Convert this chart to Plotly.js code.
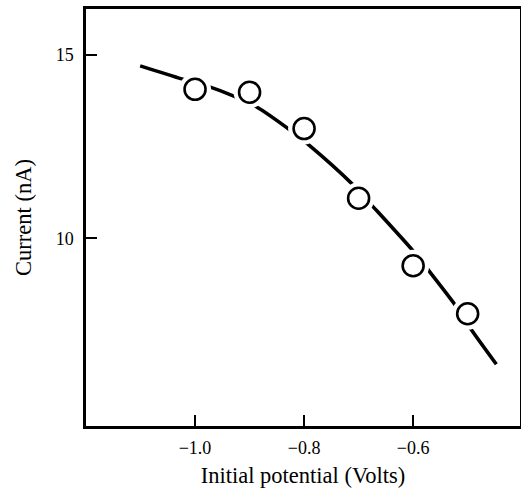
<!DOCTYPE html>
<html>
<head>
<meta charset="utf-8">
<script src="https://cdn.plot.ly/plotly-3.0.1.min.js"></script>
<style>html,body{margin:0;padding:0;background:#fff;}#chart{width:521px;height:488px;}</style>
</head>
<body>
<div id="chart"></div>
<script>
// Measured data points (open circles)
var potential = [-1.0, -0.9, -0.8, -0.7, -0.6, -0.5];
var current = [14.06, 13.98, 12.99, 11.09, 9.25, 7.94];

// Hand-drawn smooth curve
var curveX = [-1.1007, -1.0244, -0.9786, -0.9267, -0.8883, -0.8247, -0.7936, -0.7101, -0.6782, -0.6002, -0.5709, -0.5207, -0.4951, -0.4474];
var curveY = [14.70, 14.345, 14.155, 13.863, 13.59, 12.936, 12.573, 11.455, 10.937, 9.655, 9.11, 8.136, 7.547, 6.565];

var xTicks = [-1.0, -0.8, -0.6];
var xTickText = ['\u22121.0', '\u22120.8', '\u22120.6'];
var yTicks = [10, 15];
var yTickText = ['10', '15'];

var traces = [
  {x: curveX, y: curveY, mode: 'lines', type: 'scatter',
   line: {color: '#000', width: 3.6, shape: 'spline', smoothing: 0.8},
   hoverinfo: 'skip', showlegend: false},
  {x: potential, y: current, mode: 'markers', type: 'scatter',
   marker: {symbol: 'circle', size: 32, color: '#fff', line: {width: 0}},
   hoverinfo: 'skip', showlegend: false},
  {x: potential, y: current, mode: 'markers', type: 'scatter',
   marker: {symbol: 'circle', size: 21, color: '#fff', line: {color: '#000', width: 2.6}},
   showlegend: false}
];

var fam = '"Liberation Serif", "Times New Roman", serif';

var layout = {
  width: 521, height: 488,
  margin: {l: 86, r: 1, t: 9, b: 62},
  paper_bgcolor: '#fff', plot_bgcolor: '#fff',
  font: {family: fam, color: '#000', size: 18},
  showlegend: false,
  xaxis: {
    range: [-1.2, -0.404],
    tickmode: 'array', tickvals: xTicks, ticktext: xTickText,
    ticks: 'inside', ticklen: 11, tickwidth: 2.5, tickcolor: '#000',
    showline: true, linewidth: 2.6, linecolor: '#000', mirror: true,
    showgrid: false, zeroline: false,
    tickfont: {family: fam, size: 18, color: '#000'},
    ticklabelstandoff: 4,
    automargin: false,
    title: {text: 'Initial potential (Volts)', font: {family: fam, size: 22.5, color: '#000'}, standoff: 10}
  },
  yaxis: {
    range: [4.88, 16.25],
    tickmode: 'array', tickvals: yTicks, ticktext: yTickText,
    ticks: 'inside', ticklen: 11, tickwidth: 2.5, tickcolor: '#000',
    showline: true, linewidth: 2.6, linecolor: '#000', mirror: true,
    showgrid: false, zeroline: false,
    tickfont: {family: fam, size: 18, color: '#000'},
    ticklabelstandoff: 6,
    automargin: false,
    title: {text: 'Current (nA)', font: {family: fam, size: 22.5, color: '#000'}, standoff: 18}
  }
};

Plotly.newPlot('chart', traces, layout, {displayModeBar: false, staticPlot: true});
</script>
</body>
</html>
